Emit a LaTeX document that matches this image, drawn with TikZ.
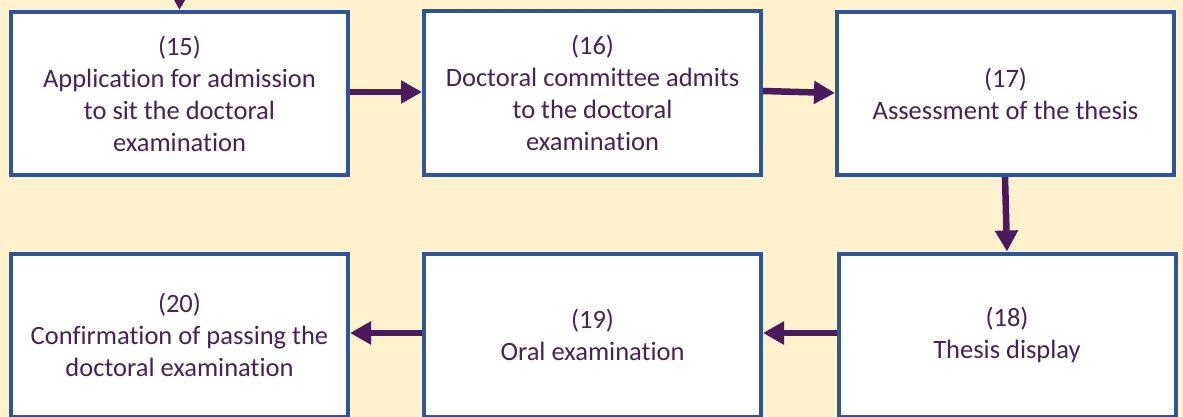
\documentclass[tikz,border=0pt]{standalone}
\usepackage{fontspec}
\setmainfont{Carlito}[Ligatures={NoCommon}]
\usetikzlibrary{arrows.meta}
\definecolor{bgcream}{HTML}{FFF2CC}
\definecolor{boxblue}{HTML}{2F5597}
\definecolor{txtpurple}{HTML}{46215E}
\definecolor{arrpurple}{HTML}{4A1A5C}
\tikzset{
  stepbox/.style={draw=boxblue, line width=4pt, fill=white, inner sep=0pt,
    minimum width=337pt, minimum height=163pt, text=txtpurple, align=center,
    font=\fontsize{26.5}{32}\selectfont},
  flowarrow/.style={draw=arrpurple, line width=6.5pt,
    -{Triangle[width=22pt,length=21pt]}, shorten >=0pt}
}
\begin{document}
\begin{tikzpicture}[x=1pt,y=-1pt]
\useasboundingbox[fill=bgcream] (0,0) rectangle (1183,417);
\node[stepbox] (b15) at (179.5,93.5) {(15)\\Application for admission\\to sit the doctoral\\examination};
\node[stepbox] (b16) at (592.5,93) {(16)\\Doctoral committee admits\\to the doctoral\\examination};
\node[stepbox] (b17) at (1005.5,93.5) {(17)\\Assessment of the thesis};
\node[stepbox] (b18) at (1007,335) {(18)\\Thesis display};
\node[stepbox] (b19) at (592.5,335) {(19)\\Oral examination};
\node[stepbox] (b20) at (179.5,335) {(20)\\Confirmation of passing the\\doctoral examination};
\coordinate (top) at (180,-40);
\draw[flowarrow] (top) -- (b15.north);
\draw[flowarrow] (b15.east |- 0,92) -- (b16.west |- 0,92);
\draw[flowarrow] (b16.east |- 0,91) -- (b17.west |- 0,93);
\draw[flowarrow] (b17.south -| 1005,0) -- (b18.north -| 1007,0);
\draw[flowarrow] (b18.west |- 0,333) -- (b19.east |- 0,333);
\draw[flowarrow] (b19.west |- 0,333) -- (b20.east |- 0,333);
\end{tikzpicture}
\end{document}
